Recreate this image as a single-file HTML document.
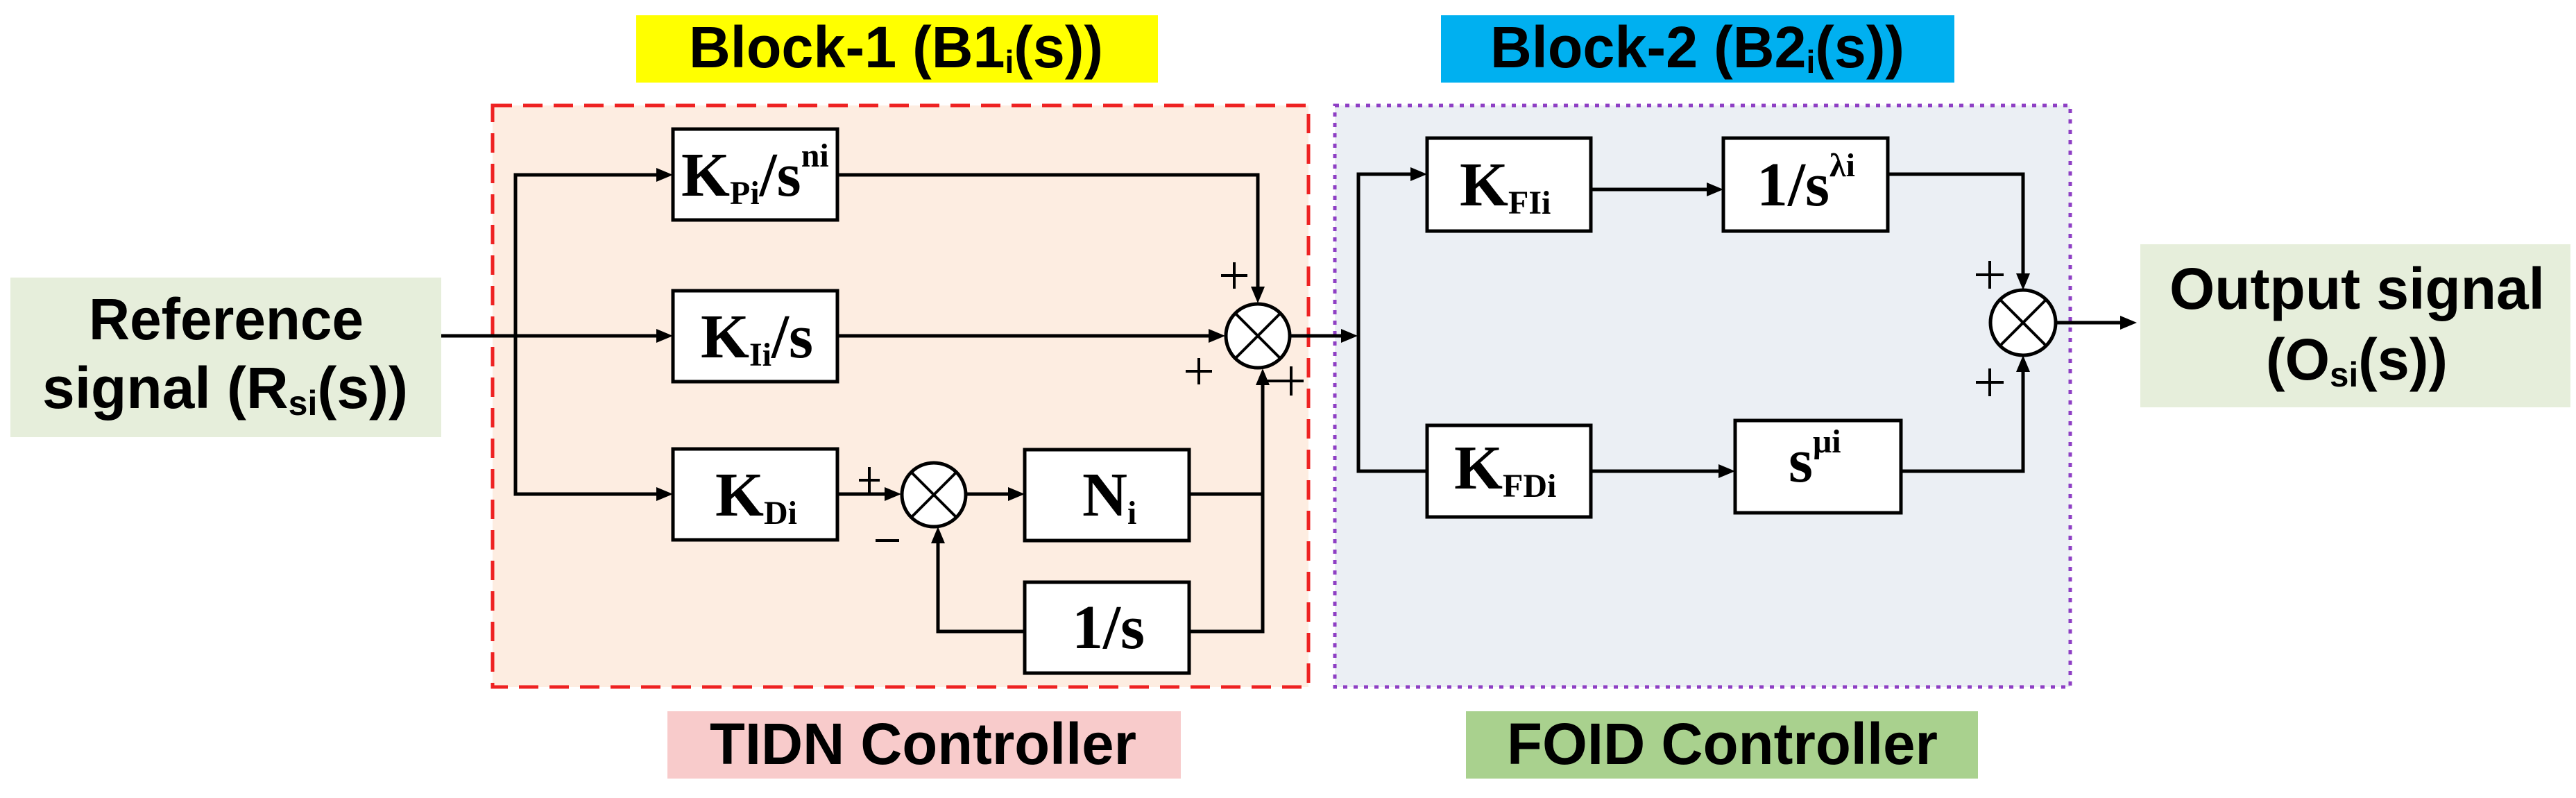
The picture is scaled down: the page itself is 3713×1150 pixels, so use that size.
<!DOCTYPE html>
<html><head><meta charset="utf-8"><style>
html,body{margin:0;padding:0;background:#fff;}
svg{display:block;}
.lab{font-family:"Liberation Sans",Arial,sans-serif;font-weight:bold;font-size:84px;fill:#000;}
.tm{font-family:"Liberation Serif","Times New Roman",serif;font-weight:bold;fill:#000;}
</style></head><body>
<svg width="3713" height="1150" viewBox="0 0 3713 1150" xmlns="http://www.w3.org/2000/svg">
<rect x="710" y="152" width="1176" height="838" fill="#fdede1" stroke="#ee2222" stroke-width="5" stroke-dasharray="28,16"/>
<rect x="1924" y="152" width="1060" height="838" fill="#ebeff4" stroke="#8e3fc4" stroke-width="5" stroke-dasharray="6,9"/>
<rect x="917" y="22" width="752" height="97" fill="#ffff00"/>
<text class="lab" x="993" y="97" textLength="597" lengthAdjust="spacingAndGlyphs">Block-1 (B1<tspan font-size="46" dy="8">i</tspan><tspan dy="-8">(s))</tspan></text>
<rect x="2077" y="22" width="740" height="97" fill="#00b0f0"/>
<text class="lab" x="2148" y="97" textLength="597" lengthAdjust="spacingAndGlyphs">Block-2 (B2<tspan font-size="46" dy="8">i</tspan><tspan dy="-8">(s))</tspan></text>
<rect x="962" y="1025" width="740" height="97" fill="#f8cbcb"/>
<text class="lab" x="1023" y="1101" textLength="615" lengthAdjust="spacingAndGlyphs">TIDN Controller</text>
<rect x="2113" y="1025" width="738" height="97" fill="#a9d18e"/>
<text class="lab" x="2172" y="1101" textLength="621" lengthAdjust="spacingAndGlyphs">FOID Controller</text>
<rect x="15" y="400" width="621" height="230" fill="#e6eedb"/>
<text class="lab" x="128" y="489" textLength="396" lengthAdjust="spacingAndGlyphs">Reference</text>
<text class="lab" x="61" y="588" textLength="527" lengthAdjust="spacingAndGlyphs">signal (R<tspan font-size="50" dy="10">si</tspan><tspan dy="-10">(s))</tspan></text>
<rect x="3085" y="352" width="620" height="235" fill="#e6eedb"/>
<text class="lab" x="3127" y="445" textLength="541" lengthAdjust="spacingAndGlyphs">Output signal</text>
<text class="lab" x="3266" y="547" textLength="262" lengthAdjust="spacingAndGlyphs">(O<tspan font-size="50" dy="10">si</tspan><tspan dy="-10">(s))</tspan></text>

<g stroke="#000" stroke-width="5" fill="none">
<line x1="636" y1="484" x2="955" y2="484"/>
<polyline points="955,252 743,252 743,712 955,712"/>
<polyline points="1207,252 1813,252 1813,422"/>
<line x1="1207" y1="484" x2="1751" y2="484"/>
<line x1="1207" y1="712" x2="1285" y2="712"/>
<line x1="1393" y1="712" x2="1462" y2="712"/>
<polyline points="1714,712 1820,712"/>
<polyline points="1714,910 1820,910 1820,546"/>
<polyline points="1477,910 1352,910 1352,774"/>
<line x1="1860" y1="484" x2="1942" y2="484"/>
<polyline points="2042,251 1958,251 1958,679 2057,679"/>
<line x1="2293" y1="273" x2="2469" y2="273"/>
<line x1="2293" y1="679" x2="2486" y2="679"/>
<polyline points="2721,251 2916,251 2916,403"/>
<polyline points="2740,679 2916,679 2916,527"/>
<line x1="2963" y1="465" x2="3066" y2="465"/>
</g>
<g fill="#000">
<polygon points="970,252 946,242 946,262"/>
<polygon points="970,484 946,474 946,494"/>
<polygon points="970,712 946,702 946,722"/>
<polygon points="1766,484 1742,474 1742,494"/>
<polygon points="1813,437 1803,413 1823,413"/>
<polygon points="1820,531 1810,555 1830,555"/>
<polygon points="1299,712 1275,702 1275,722"/>
<polygon points="1477,712 1453,702 1453,722"/>
<polygon points="1352,759 1342,783 1362,783"/>
<polygon points="1957,484 1933,474 1933,494"/>
<polygon points="2057,251 2033,241 2033,261"/>
<polygon points="2484,273 2460,263 2460,283"/>
<polygon points="2501,679 2477,669 2477,689"/>
<polygon points="2916,418 2906,394 2926,394"/>
<polygon points="2916,512 2906,536 2926,536"/>
<polygon points="3080,465 3056,455 3056,475"/>
</g>
<g fill="#fff" stroke="#000" stroke-width="5">
<rect x="970" y="186" width="237" height="131"/>
<rect x="970" y="419" width="237" height="131"/>
<rect x="970" y="647" width="237" height="131"/>
<rect x="1477" y="648" width="237" height="131"/>
<rect x="1477" y="839" width="237" height="131"/>
<rect x="2057" y="199" width="236" height="134"/>
<rect x="2484" y="199" width="237" height="134"/>
<rect x="2057" y="613" width="236" height="132"/>
<rect x="2501" y="606" width="239" height="133"/>
</g>
<g fill="#fff" stroke="#000" stroke-width="5">
<circle cx="1813" cy="484" r="46"/>
<circle cx="1346" cy="713" r="46"/>
<circle cx="2916" cy="465" r="47"/>
</g>
<g stroke="#000" stroke-width="4">
<line x1="1780" y1="451" x2="1846" y2="517"/><line x1="1846" y1="451" x2="1780" y2="517"/>
<line x1="1313" y1="680" x2="1379" y2="746"/><line x1="1379" y1="680" x2="1313" y2="746"/>
<line x1="2883" y1="432" x2="2949" y2="498"/><line x1="2949" y1="432" x2="2883" y2="498"/>
</g>
<g stroke="#000" stroke-width="4">
<line x1="1760" y1="397" x2="1798" y2="397"/><line x1="1779" y1="378" x2="1779" y2="416"/>
<line x1="1709" y1="535" x2="1747" y2="535"/><line x1="1728" y1="516" x2="1728" y2="554"/>
<line x1="1825" y1="549" x2="1879" y2="549"/><line x1="1861" y1="528" x2="1861" y2="570"/>
<line x1="1238" y1="692" x2="1268" y2="692"/><line x1="1253" y1="673" x2="1253" y2="711"/>
<line x1="1262" y1="779" x2="1296" y2="779"/>
<line x1="2848" y1="396" x2="2888" y2="396"/><line x1="2868" y1="376" x2="2868" y2="416"/>
<line x1="2848" y1="551" x2="2888" y2="551"/><line x1="2868" y1="531" x2="2868" y2="571"/>
</g>
<text class="tm" font-size="90" x="982" y="282">K<tspan font-size="48" dy="12">Pi</tspan><tspan dy="-12">/s</tspan><tspan font-size="48" dy="-42">ni</tspan></text>
<text class="tm" font-size="90" x="1010" y="515">K<tspan font-size="48" dy="12">Ii</tspan><tspan dy="-12">/s</tspan></text>
<text class="tm" font-size="90" x="1031" y="743">K<tspan font-size="48" dy="12">Di</tspan></text>
<text class="tm" font-size="90" x="1560" y="743">N<tspan font-size="48" dy="12">i</tspan></text>
<text class="tm" font-size="90" x="1545" y="934">1/s</text>
<text class="tm" font-size="90" x="2104" y="296">K<tspan font-size="48" dy="12">FIi</tspan></text>
<text class="tm" font-size="90" x="2532" y="296">1/s<tspan font-size="48" dy="-42">λi</tspan></text>
<text class="tm" font-size="90" x="2096" y="704">K<tspan font-size="48" dy="12">FDi</tspan></text>
<text class="tm" font-size="90" x="2578" y="694">s<tspan font-size="48" dy="-42">μi</tspan></text>
</svg>
</body></html>
